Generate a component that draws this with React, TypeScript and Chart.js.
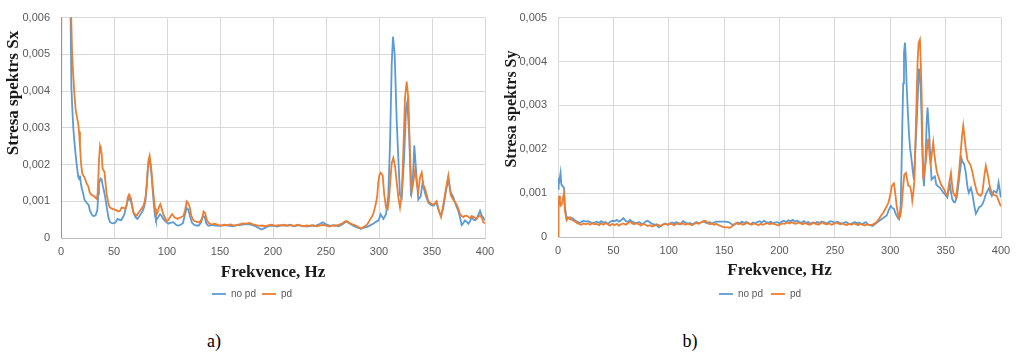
import React, { useEffect, useRef } from "react";
import { Chart, registerables } from "chart.js";

Chart.register(...registerables);

// ---------- data (frequency Hz, stress spectrum value) ----------
const seriesLabels = ["no pd", "pd"];
const seriesColors = ["#5B9BD5", "#ED7D31"];
const xTitleText = "Frekvence, Hz";
const yTitleA = "Stresa spektrs Sx";
const yTitleB = "Stresa spektrs Sy";
const captionA = "a)";
const captionB = "b)";
const freqTicks = [0, 50, 100, 150, 200, 250, 300, 350, 400];
const yTicksA = [0, 0.001, 0.002, 0.003, 0.004, 0.005, 0.006];
const yTicksB = [0, 0.001, 0.002, 0.003, 0.004, 0.005];

const sxNoPd: [number, number][] = [
  [0, 0], [1, 0.03], [5, 0.012], [9, 0.0062], [9.8, 0.0041], [10.7, 0.0035], [11.6, 0.003], [12.6, 0.00263],
  [13.7, 0.0023], [14.8, 0.002], [16.3, 0.00166], [17.2, 0.0016], [17.9, 0.0017], [18.7, 0.0015], [19.5, 0.00136],
  [21, 0.0012], [22, 0.00105], [24.2, 0.00096], [26, 0.0009], [27.4, 0.00074], [29.6, 0.00061], [31, 0.0006],
  [32.7, 0.00062], [34.3, 0.00076], [35.2, 0.0012], [35.8, 0.00149], [37.4, 0.00162], [38.3, 0.0016],
  [39.3, 0.00144], [40.4, 0.0013], [41.5, 0.00114], [43.4, 0.00079], [44.8, 0.00055], [46.2, 0.00043],
  [48.5, 0.0004], [50.9, 0.00041], [52, 0.00045], [53.4, 0.00052], [55, 0.0005], [56.6, 0.00048],
  [58.2, 0.00055], [59.8, 0.00065], [61.5, 0.00085], [63.5, 0.00109], [64.8, 0.00105], [66, 0.001],
  [67.5, 0.0008], [68.9, 0.00065], [70.5, 0.00056], [72, 0.00052], [73.6, 0.00058], [75.2, 0.00065],
  [76.8, 0.00072], [78.3, 0.00083], [79.6, 0.001], [80.8, 0.0014], [82, 0.0019], [83.3, 0.00215],
  [84.3, 0.002], [85.3, 0.00175], [86.5, 0.0013], [87.7, 0.00087], [88.7, 0.0006], [89.6, 0.00048],
  [91.5, 0.00056], [93.4, 0.00065], [95, 0.0006], [96.5, 0.00052], [98.5, 0.00045], [101.2, 0.00039],
  [103, 0.00041], [105.9, 0.00043], [107.5, 0.00039], [109, 0.00035], [110.7, 0.00034], [113, 0.00036],
  [115, 0.0004], [116.8, 0.00062], [118.6, 0.00082], [120, 0.00078], [121.6, 0.0006], [123.5, 0.00042],
  [125.5, 0.00036], [127.5, 0.00034], [130, 0.00034], [132, 0.00042], [134, 0.0006], [135.5, 0.00057],
  [137, 0.0004], [139, 0.00033], [141, 0.00034], [142, 0.00036], [146, 0.00034], [150, 0.00033],
  [154, 0.00035], [158, 0.00034], [162, 0.00032], [166, 0.00035], [170, 0.00036], [174, 0.00038],
  [178, 0.00037], [182, 0.00034], [186, 0.00028], [189, 0.00023], [192, 0.00027], [196, 0.00033],
  [200, 0.00034], [204, 0.00031], [208, 0.00035], [212, 0.00033], [216, 0.00036], [220, 0.00032],
  [224, 0.00035], [228, 0.00033], [232, 0.00031], [236, 0.00034], [240, 0.00033], [244, 0.00038],
  [247, 0.00043], [250, 0.00037], [254, 0.00033], [258, 0.00035], [262, 0.00032], [266, 0.00038],
  [269, 0.00045], [272, 0.0004], [276, 0.00033], [280, 0.00028], [283, 0.00025], [286, 0.00028],
  [289, 0.0003], [292, 0.00035], [294.6, 0.00039], [297, 0.00044], [299.7, 0.00048], [301.5, 0.00065],
  [304.1, 0.00052], [306.6, 0.00065], [308.8, 0.00117], [310.4, 0.00257], [312, 0.00474], [313.2, 0.00548],
  [314.8, 0.005], [316.7, 0.00318], [318.3, 0.00213], [319.8, 0.00117], [321.4, 0.00109], [323.6, 0.00213],
  [325.5, 0.00352], [326.7, 0.0037], [328.6, 0.00274], [330.2, 0.00113], [331.8, 0.00152], [333.3, 0.00252],
  [334.9, 0.00187], [337.1, 0.00104], [339.3, 0.00113], [341.2, 0.00152], [343.4, 0.00122], [346.5, 0.00096],
  [349, 0.0009], [351.5, 0.00088], [354, 0.00098], [356, 0.00078], [358.5, 0.0006], [360.7, 0.00083],
  [363, 0.00125], [365.4, 0.00161], [367.6, 0.00125], [370, 0.00112], [372.5, 0.0009], [374.8, 0.00074],
  [376.5, 0.00055], [378, 0.00035], [379.5, 0.0004], [381.1, 0.00048], [382.8, 0.00044], [384.3, 0.00039],
  [386, 0.00046], [387.4, 0.00057], [389, 0.0005], [390.6, 0.00048], [392.5, 0.00055], [395.3, 0.00074],
  [396.9, 0.00061], [398.5, 0.00055], [400, 0.00048],
];

const sxPd: [number, number][] = [
  [0, 0], [1, 0.03], [5, 0.014], [9, 0.0068], [9.8, 0.0058], [10.5, 0.005], [11.6, 0.0044], [12.7, 0.0039],
  [13.8, 0.0035], [15, 0.0033], [16.3, 0.0031], [17, 0.0029], [17.9, 0.0025], [19, 0.002], [20.1, 0.00175],
  [21.5, 0.00168], [22.6, 0.00162], [24, 0.0015], [25.8, 0.0014], [27, 0.00125], [28.3, 0.00119],
  [30, 0.00115], [31.4, 0.00114], [32.5, 0.0011], [33.7, 0.00106], [34.5, 0.0012], [35.3, 0.0017],
  [36, 0.0022], [36.8, 0.0025], [37.6, 0.0024], [38.4, 0.0023], [39.2, 0.0019], [40, 0.00185], [41, 0.0018],
  [42, 0.0015], [43, 0.0012], [44, 0.00105], [45, 0.0009], [46.2, 0.00083], [48, 0.0008], [50, 0.00078],
  [52, 0.00076], [54, 0.00072], [55.7, 0.00074], [57.2, 0.00083], [59, 0.00082], [60.4, 0.00079],
  [62, 0.0009], [63, 0.0011], [64.2, 0.00118], [65, 0.00112], [66, 0.00108], [67, 0.0009], [68.2, 0.0007],
  [70, 0.00064], [71.4, 0.00061], [73, 0.00068], [74.5, 0.00074], [76, 0.0008], [77.7, 0.00087], [79, 0.001],
  [79.9, 0.00114], [81, 0.0015], [82.4, 0.0021], [83.6, 0.00224], [84.5, 0.00205], [85.3, 0.00184],
  [86.5, 0.0014], [87.7, 0.00105], [88.7, 0.0008], [89.6, 0.00061], [90.5, 0.00066], [91.6, 0.00074],
  [92.5, 0.00085], [93.7, 0.00092], [95, 0.0008], [96.5, 0.00065], [98, 0.00055], [99.7, 0.00046],
  [101, 0.00048], [102.5, 0.00055], [104, 0.00062], [105, 0.00065], [106.5, 0.00058], [108, 0.00055],
  [110, 0.00052], [112, 0.00055], [114, 0.00058], [115.5, 0.0006], [117, 0.00075], [118.6, 0.001],
  [120, 0.00095], [121.5, 0.00083], [123, 0.0006], [125, 0.00048], [127, 0.00045], [129, 0.00043],
  [131, 0.00044], [133, 0.00052], [134.5, 0.00072], [136, 0.00068], [137.5, 0.0005], [139, 0.00042],
  [141, 0.00038], [143, 0.00037], [145, 0.00039], [148, 0.00036], [151, 0.00034], [154, 0.00036],
  [157, 0.00035], [160, 0.00037], [163, 0.00034], [166, 0.00035], [169, 0.00038], [172, 0.0004],
  [175, 0.00039], [178, 0.00041], [181, 0.00037], [184, 0.00035], [187, 0.00033], [190, 0.00034],
  [193, 0.00032], [196, 0.00035], [199, 0.00036], [202, 0.00033], [205, 0.00035], [208, 0.00034],
  [211, 0.00036], [214, 0.00033], [217, 0.00035], [220, 0.00033], [223, 0.00036], [226, 0.00034],
  [229, 0.00032], [232, 0.00034], [235, 0.00033], [238, 0.00035], [241, 0.00032], [244, 0.00034],
  [247, 0.00036], [250, 0.00034], [253, 0.00031], [256, 0.00034], [259, 0.00033], [262, 0.00036],
  [265, 0.00039], [268, 0.00045], [270, 0.00046], [272, 0.00041], [275, 0.00037], [278, 0.00034],
  [281, 0.00029], [283, 0.00026], [285, 0.00029], [287, 0.00033], [288.4, 0.00035], [290, 0.00042],
  [291.5, 0.0005], [293, 0.00057], [294.5, 0.00065], [296.2, 0.00083], [297.5, 0.001], [298.4, 0.00117],
  [299.3, 0.0015], [300.3, 0.0017], [301.5, 0.00178], [302.5, 0.00175], [303.5, 0.0017], [304.3, 0.0014],
  [305, 0.00117], [306.6, 0.00083], [308.2, 0.00078], [309.3, 0.001], [310.4, 0.00144], [312, 0.00204],
  [313.5, 0.00218], [315.1, 0.00196], [316.7, 0.00152], [318.3, 0.00109], [319.8, 0.00083], [321.4, 0.00117],
  [323, 0.0024], [324.5, 0.0038], [326.1, 0.00426], [327.7, 0.0038], [329.2, 0.0023], [330.8, 0.00126],
  [332.4, 0.00152], [334, 0.00187], [335.5, 0.00152], [337.1, 0.00126], [338.7, 0.00165], [340.3, 0.00178],
  [341.8, 0.00144], [343.4, 0.00135], [345, 0.00117], [346.5, 0.001], [348.1, 0.00096], [350, 0.00092],
  [351.3, 0.00091], [353, 0.00095], [354.4, 0.001], [356, 0.00078], [358.5, 0.00057], [360.7, 0.00091],
  [363.2, 0.00135], [365.4, 0.0017], [367.6, 0.00117], [370.1, 0.00104], [373.3, 0.00091], [375, 0.00078],
  [376.4, 0.00065], [378, 0.0006], [379.6, 0.00057], [381, 0.0006], [382.7, 0.00061], [384, 0.00058],
  [385.8, 0.00055], [387.5, 0.0006], [389, 0.00058], [390.5, 0.00055], [392.1, 0.00052], [393.5, 0.00058],
  [395.3, 0.00061], [397, 0.00055], [398.4, 0.00043], [400, 0.0004],
];

const syNoPd: [number, number][] = [
  [0, 0.0011], [0.6, 0.0013], [1.2, 0.00127], [2.3, 0.00146], [3, 0.0012], [4.2, 0.00116], [5.4, 0.00112],
  [6.3, 0.00068], [7.8, 0.00042], [9, 0.00045], [11, 0.0004], [13, 0.00043], [15, 0.00039], [17, 0.00035],
  [19, 0.00033], [21, 0.00034], [23, 0.00037], [25, 0.00035], [27, 0.00036], [29, 0.00034], [31, 0.00031],
  [33, 0.00033], [35, 0.00035], [37, 0.00032], [39, 0.00036], [41, 0.00033], [43, 0.00034], [45, 0.0003],
  [47, 0.00034], [49, 0.00037], [51, 0.00036], [53, 0.00039], [55, 0.00035], [57, 0.00038], [59, 0.00043],
  [61, 0.00037], [63, 0.00034], [65, 0.00039], [67, 0.00035], [69, 0.00033], [71, 0.00031], [73, 0.00034],
  [75, 0.00031], [77, 0.0003], [79, 0.00035], [81, 0.00037], [83, 0.00033], [85, 0.0003], [87, 0.00029],
  [89, 0.00027], [91, 0.00022], [93, 0.00026], [95, 0.00029], [97, 0.00031], [99, 0.00028], [101, 0.0003],
  [103, 0.00033], [105, 0.00031], [107, 0.00034], [109, 0.00029], [111, 0.00031], [113, 0.00036],
  [115, 0.00033], [117, 0.0003], [119, 0.00032], [121, 0.00029], [123, 0.00031], [125, 0.00034],
  [127, 0.00031], [129, 0.00033], [131, 0.00036], [133, 0.00033], [135, 0.00031], [137, 0.00034],
  [139, 0.0003], [141, 0.00033], [143, 0.00035], [145, 0.00035], [148, 0.00035], [151, 0.00035],
  [154, 0.00034], [156, 0.00031], [158, 0.00027], [160, 0.00029], [162, 0.00033], [164, 0.00031],
  [166, 0.00035], [168, 0.00032], [170, 0.00034], [172, 0.00031], [174, 0.00029], [176, 0.00033],
  [178, 0.00031], [180, 0.00034], [182, 0.00036], [184, 0.00033], [186, 0.00037], [188, 0.00034],
  [190, 0.00032], [192, 0.00035], [194, 0.00031], [196, 0.00033], [198, 0.00034], [200, 0.00031],
  [202, 0.00035], [204, 0.00037], [206, 0.00034], [208, 0.00038], [210, 0.00036], [212, 0.00039],
  [214, 0.00035], [216, 0.00037], [218, 0.00034], [220, 0.00033], [222, 0.00036], [224, 0.00032],
  [226, 0.00034], [228, 0.0003], [230, 0.00033], [232, 0.00031], [234, 0.00034], [236, 0.00032],
  [238, 0.00035], [240, 0.00034], [242, 0.00031], [244, 0.00033], [246, 0.00036], [248, 0.00035],
  [250, 0.00032], [252, 0.00035], [254, 0.00033], [256, 0.0003], [258, 0.00032], [260, 0.00034],
  [262, 0.00031], [264, 0.00029], [266, 0.00032], [268, 0.00034], [270, 0.00031], [272, 0.00033],
  [274, 0.00029], [276, 0.00031], [278, 0.00034], [280, 0.00028], [282, 0.00027], [284, 0.00025],
  [286, 0.00029], [288, 0.00033], [290.7, 0.00038], [293, 0.00042], [296.8, 0.00049], [298.5, 0.0006],
  [300.4, 0.00071], [302, 0.00066], [303.4, 0.00064], [305, 0.00052], [307.3, 0.00042], [308.5, 0.0005],
  [309.4, 0.00071], [310.2, 0.0016], [310.9, 0.00257], [311.7, 0.0035], [312.4, 0.0042], [313.3, 0.00443],
  [314, 0.0041], [314.8, 0.00346], [315.8, 0.0029], [316.9, 0.00235], [318, 0.002], [319.3, 0.00175],
  [320.3, 0.0015], [321.4, 0.00131], [322.5, 0.0019], [323.8, 0.00257], [325, 0.0033], [325.9, 0.00384],
  [326.6, 0.0037], [327.4, 0.00346], [328.2, 0.0028], [328.9, 0.00205], [329.6, 0.0015], [330.4, 0.00116],
  [331.9, 0.00183], [333, 0.0027], [333.7, 0.00295], [335.2, 0.00235], [336.2, 0.0018], [337.3, 0.00131],
  [338.8, 0.00135], [340.3, 0.00138], [341.5, 0.0012], [342.8, 0.00116], [345, 0.00112], [347.9, 0.00101],
  [349.5, 0.00097], [351.5, 0.0009], [353, 0.0011], [353.9, 0.0012], [355, 0.001], [356, 0.00086],
  [357.3, 0.0008], [358.4, 0.00079], [360, 0.0009], [361.4, 0.00116], [363, 0.0015], [364.4, 0.00179],
  [365.5, 0.0017], [366.5, 0.00168], [368, 0.0015], [368.9, 0.00131], [370, 0.0011], [371, 0.00101],
  [372, 0.00108], [372.8, 0.00112], [374, 0.001], [374.9, 0.00086], [376, 0.0007], [377.3, 0.00053],
  [378.8, 0.0006], [380.3, 0.00068], [381.8, 0.0007], [383.3, 0.00075], [384.8, 0.00085], [386.3, 0.00097],
  [387.8, 0.00105], [389.3, 0.00112], [390.5, 0.001], [391.7, 0.00094], [392.6, 0.001], [393.5, 0.00105],
  [394.8, 0.00103], [396, 0.00101], [397, 0.0011], [397.8, 0.00124], [398.7, 0.0011], [399.6, 0.00094],
  [400, 0.0009],
];

const syPd: [number, number][] = [
  [0, 0], [0.5, 0.0006], [1, 0.00094], [1.8, 0.0008], [2.5, 0.00072], [3.5, 0.00075], [4.5, 0.0009],
  [5.4, 0.00098], [6.2, 0.0006], [7.8, 0.00038], [9, 0.00042], [11, 0.00045], [13, 0.00038], [15, 0.00036],
  [17, 0.00032], [19, 0.0003], [21, 0.00028], [23, 0.00031], [25, 0.00029], [27, 0.00031], [29, 0.00028],
  [31, 0.00032], [33, 0.00029], [35, 0.0003], [37, 0.00027], [39, 0.00031], [41, 0.00028], [43, 0.00032],
  [45, 0.00029], [47, 0.00026], [49, 0.0003], [51, 0.00027], [53, 0.0003], [55, 0.00026], [57, 0.00029],
  [59, 0.00031], [61, 0.00028], [63, 0.00031], [65, 0.00035], [67, 0.00031], [69, 0.00029], [71, 0.00032],
  [73, 0.00029], [75, 0.00026], [77, 0.0003], [79, 0.00028], [81, 0.00025], [83, 0.00027], [85, 0.00024],
  [87, 0.00026], [89, 0.00029], [91, 0.00027], [93, 0.00025], [95, 0.00028], [97, 0.0003], [99, 0.00028],
  [101, 0.00031], [103, 0.00029], [105, 0.00027], [107, 0.0003], [109, 0.00032], [111, 0.00029],
  [113, 0.00031], [115, 0.00028], [117, 0.00031], [119, 0.00029], [121, 0.00027], [123, 0.0003],
  [125, 0.00032], [127, 0.0003], [129, 0.00033], [131, 0.00035], [133, 0.00037], [135, 0.00033],
  [137, 0.00029], [139, 0.00031], [141, 0.00028], [143, 0.0003], [145, 0.00027], [147, 0.00025],
  [149, 0.00023], [151, 0.00022], [153, 0.00022], [155, 0.00021], [157, 0.00024], [159, 0.00029],
  [161, 0.00032], [163, 0.00029], [165, 0.00031], [167, 0.00028], [169, 0.0003], [171, 0.00033],
  [173, 0.0003], [175, 0.00028], [177, 0.00031], [179, 0.00029], [181, 0.00027], [183, 0.0003],
  [185, 0.00028], [187, 0.0003], [189, 0.00032], [191, 0.00029], [193, 0.00031], [195, 0.0003],
  [197, 0.00028], [199, 0.00026], [201, 0.00029], [203, 0.00031], [205, 0.0003], [207, 0.00033],
  [209, 0.00031], [211, 0.00034], [213, 0.00031], [215, 0.0003], [217, 0.00033], [219, 0.00031],
  [221, 0.00029], [223, 0.00032], [225, 0.0003], [227, 0.00028], [229, 0.0003], [231, 0.00033],
  [233, 0.0003], [235, 0.00028], [237, 0.00031], [239, 0.00033], [241, 0.0003], [243, 0.00029],
  [245, 0.00031], [247, 0.00028], [249, 0.0003], [251, 0.00033], [253, 0.00031], [255, 0.00029],
  [257, 0.00031], [259, 0.00028], [261, 0.00027], [263, 0.0003], [265, 0.00028], [267, 0.00031],
  [269, 0.00029], [271, 0.00027], [273, 0.0003], [275, 0.00028], [277, 0.00026], [279, 0.00029],
  [281.7, 0.00027], [284, 0.00028], [286, 0.00031], [287.7, 0.00034], [289.5, 0.0004], [291.5, 0.00048],
  [293.8, 0.00056], [296, 0.00066], [298.3, 0.00078], [300, 0.00095], [301.3, 0.00115], [302.3, 0.0012],
  [303.4, 0.00122], [304.5, 0.001], [305.8, 0.00071], [307, 0.00052], [308.2, 0.00042], [309.3, 0.0005],
  [310.3, 0.00071], [311.5, 0.0011], [312.7, 0.00142], [314.2, 0.00146], [315.3, 0.0013], [316.3, 0.00117],
  [318, 0.00115], [319.2, 0.001], [319.9, 0.00083], [320.8, 0.001], [321.7, 0.00124], [322.8, 0.0022],
  [323.8, 0.00317], [324.7, 0.004], [325.6, 0.00443], [326.8, 0.0045], [327.5, 0.004], [328.3, 0.0033],
  [329, 0.0022], [329.8, 0.00131], [330.8, 0.0015], [331.9, 0.00168], [333.2, 0.002], [334.3, 0.00224],
  [335.4, 0.0019], [336.4, 0.00168], [337.6, 0.0019], [338.8, 0.00216], [339.8, 0.0019], [340.9, 0.00168],
  [342, 0.0015], [343.4, 0.00138], [345.8, 0.0012], [348.5, 0.00109], [350, 0.001], [351.5, 0.00094],
  [353, 0.0012], [354.8, 0.00146], [355.8, 0.0012], [356.9, 0.00101], [359.3, 0.0009], [360.4, 0.0011],
  [361.4, 0.00131], [362.5, 0.0016], [363.5, 0.0019], [364.8, 0.0023], [365.9, 0.00254], [367, 0.0023],
  [368, 0.00205], [369.8, 0.00175], [371, 0.0017], [372.5, 0.00164], [374, 0.0015], [375.5, 0.00131],
  [377, 0.00115], [378.5, 0.00101], [380, 0.00096], [381.5, 0.00094], [383, 0.001], [383.9, 0.00116],
  [385, 0.0014], [386.3, 0.00162], [387.3, 0.0015], [388.4, 0.00138], [389.5, 0.0012], [390.5, 0.00109],
  [391.8, 0.001], [393, 0.00097], [394.5, 0.00095], [396, 0.00094], [397.5, 0.00085], [399, 0.00075],
  [400, 0.0007],
];

// ---------- chart building ----------
const sideTitlePlugin = {
  id: "sideTitle",
  afterDraw(chart: any, _args: any, opts: any) {
    const ctx = chart.ctx;
    ctx.save();
    ctx.translate(opts.x, opts.y);
    ctx.rotate(-Math.PI / 2);
    ctx.font = `bold ${opts.size}px "Liberation Serif", "Times New Roman", serif`;
    ctx.fillStyle = opts.color;
    ctx.textAlign = "center";
    ctx.textBaseline = "middle";
    ctx.fillText(opts.text, 0, 0);
    ctx.restore();
  },
};

type Panel = {
  noPd: [number, number][];
  pd: [number, number][];
  yTicks: number[];
  yTitle: string;
  titleX: number;
  titleY: number;
  titleSize: number;
  padding: { left: number; right: number; top: number; bottom: number };
  yWidth: number;
  xHeight: number;
  legendPad: number;
};

const fmt = (v: number) => (v === 0 ? "0" : (Math.round(v * 1e6) / 1e6).toFixed(3).replace(".", ","));

function buildConfig(p: Panel): any {
  const toPts = (arr: [number, number][]) => arr.map(([x, y]) => ({ x, y }));
  return {
    type: "line",
    data: {
      datasets: [
        {
          label: seriesLabels[0],
          data: toPts(p.noPd),
          borderColor: seriesColors[0],
          backgroundColor: seriesColors[0],
          borderWidth: 1.8,
          pointRadius: 0,
          tension: 0,
          order: 1,
        },
        {
          label: seriesLabels[1],
          data: toPts(p.pd),
          borderColor: seriesColors[1],
          backgroundColor: seriesColors[1],
          borderWidth: 1.8,
          pointRadius: 0,
          tension: 0,
          order: 0,
        },
      ],
    },
    options: {
      animation: false,
      responsive: false,
      layout: { padding: p.padding },
      scales: {
        x: {
          type: "linear",
          min: freqTicks[0],
          max: freqTicks[freqTicks.length - 1],
          afterBuildTicks: (scale: any) => {
            scale.ticks = freqTicks.map((v) => ({ value: v }));
          },
          afterFit: (scale: any) => {
            scale.height = p.xHeight;
          },
          grid: { color: "#d9d9d9", lineWidth: 1, drawTicks: false },
          border: { display: true, color: "#bfbfbf", width: 1 },
          ticks: {
            padding: 7,
            color: "#595959",
            font: { family: '"Liberation Sans", Arial, sans-serif', size: 11 },
            maxRotation: 0,
          },
          title: {
            display: true,
            text: xTitleText,
            color: "#1a1a1a",
            padding: { top: 0, bottom: 0 },
            font: { family: '"Liberation Serif", "Times New Roman", serif', size: 17, weight: "bold" },
          },
        },
        y: {
          type: "linear",
          min: p.yTicks[0],
          max: p.yTicks[p.yTicks.length - 1],
          afterBuildTicks: (scale: any) => {
            scale.ticks = p.yTicks.map((v) => ({ value: v }));
          },
          afterFit: (scale: any) => {
            scale.width = p.yWidth;
          },
          grid: { color: "#d9d9d9", lineWidth: 1, drawTicks: false },
          border: { display: true, color: "#d9d9d9", width: 1 },
          ticks: {
            padding: 11,
            color: "#595959",
            font: { family: '"Liberation Sans", Arial, sans-serif', size: 11 },
            callback: (v: any) => fmt(Number(v)),
          },
        },
      },
      plugins: {
        legend: {
          display: true,
          position: "bottom",
          fullSize: true,
          labels: {
            usePointStyle: true,
            pointStyle: "line",
            pointStyleWidth: 14,
            boxHeight: 10,
            padding: p.legendPad,
            color: "#595959",
            font: { family: '"Liberation Sans", Arial, sans-serif', size: 10 },
            sort: (a: any, b: any) => a.datasetIndex - b.datasetIndex,
          },
        },
        tooltip: { enabled: false },
        sideTitle: {
          text: p.yTitle,
          x: p.titleX,
          y: p.titleY,
          size: p.titleSize,
          color: "#1a1a1a",
        },
      },
    },
    plugins: [sideTitlePlugin],
  };
}

function ChartCanvas({ panel, left, width, height }: { panel: Panel; left: number; width: number; height: number }) {
  const ref = useRef<HTMLCanvasElement>(null);
  useEffect(() => {
    if (!ref.current) return;
    const chart = new Chart(ref.current, buildConfig(panel));
    return () => chart.destroy();
  }, []);
  return (
    <canvas
      ref={ref}
      width={width}
      height={height}
      style={{ position: "absolute", left, top: 0, width, height }}
    />
  );
}

const panelA: Panel = {
  noPd: sxNoPd,
  pd: sxPd,
  yTicks: yTicksA,
  yTitle: yTitleA,
  titleX: 14,
  titleY: 93,
  titleSize: 17,
  padding: { left: 19, right: 35, top: 11, bottom: 0 },
  yWidth: 42,
  xHeight: 45,
  legendPad: 6,
};

const panelB: Panel = {
  noPd: syNoPd,
  pd: syPd,
  yTicks: yTicksB,
  yTitle: yTitleB,
  titleX: 12,
  titleY: 109,
  titleSize: 16,
  padding: { left: 19, right: 18, top: 13, bottom: 0 },
  yWidth: 39,
  xHeight: 44,
  legendPad: 8,
};

const captionStyle: React.CSSProperties = {
  position: "absolute",
  top: 341,
  transform: "translate(-50%, -50%)",
  fontFamily: '"Liberation Serif", "Times New Roman", serif',
  fontSize: 18,
  lineHeight: 1,
  color: "#000",
};

export default function App() {
  return (
    <div
      style={{
        position: "absolute",
        left: 0,
        top: 0,
        width: 1019,
        height: 354,
        background: "#fff",
        overflow: "hidden",
      }}
    >
      <ChartCanvas panel={panelA} left={0} width={520} height={309} />
      <ChartCanvas panel={panelB} left={500} width={519} height={309} />
      <div style={{ ...captionStyle, left: 214 }}>{captionA}</div>
      <div style={{ ...captionStyle, left: 690 }}>{captionB}</div>
    </div>
  );
}
